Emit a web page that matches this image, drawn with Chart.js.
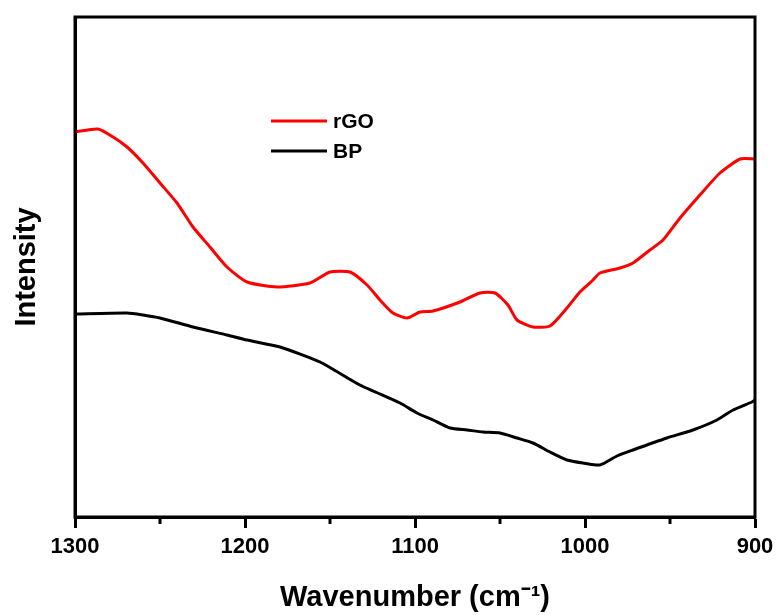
<!DOCTYPE html>
<html>
<head>
<meta charset="utf-8">
<script src="https://cdn.jsdelivr.net/npm/chart.js@4.4.0/dist/chart.umd.min.js"></script>
<style>
    html, body { margin: 0; padding: 0; background: #fff; }
    #wrap { width: 780px; height: 615px; }
</style>
</head>
<body>
<div id="wrap"><canvas id="spectrum" width="780" height="615"></canvas></div>
<script>
// values (wavenumber, intensity in arbitrary units)
const rgoWavenumber = [1300, 1286.5, 1277.6, 1269.4, 1260, 1250, 1240, 1230.6, 1220.6, 1210.6, 1198.8, 1181.2, 1161.8, 1150, 1138.2, 1128.2, 1120.6, 1113, 1104.7, 1097, 1089.4, 1073.5, 1061.8, 1052.9, 1045.3, 1040, 1030.6, 1020.6, 1010.6, 1003, 995.3, 991.2, 979.4, 971.8, 961.8, 954.1, 944.1, 932.4, 920.6, 908.8, 900];
const rgoIntensity = [77.0, 77.6, 76.0, 74.0, 70.8, 66.8, 62.8, 58.0, 54.0, 50.0, 47.0, 46.0, 46.8, 49.0, 49.0, 46.4, 43.4, 40.8, 39.8, 41.0, 41.2, 43.0, 44.8, 44.8, 42.4, 39.4, 38.0, 38.2, 41.8, 45.0, 47.4, 48.8, 49.8, 50.8, 53.4, 55.4, 59.8, 64.4, 68.8, 71.6, 71.6];

const bpWavenumber = [1300, 1269.4, 1260, 1250, 1230.6, 1210.6, 1198.8, 1179.4, 1155.9, 1132.4, 1108.8, 1098.8, 1089.4, 1079.4, 1069.4, 1060, 1050, 1040, 1030.6, 1020.6, 1010.6, 1001.2, 991.2, 981.2, 971.8, 951.8, 936.5, 922.4, 912.9, 901.8, 900];
const bpIntensity = [40.6, 40.8, 40.4, 39.8, 38.0, 36.4, 35.4, 34.0, 31.0, 26.4, 22.8, 20.8, 19.4, 17.8, 17.4, 17.0, 16.8, 15.8, 14.8, 13.0, 11.4, 10.8, 10.4, 12.2, 13.4, 15.8, 17.4, 19.4, 21.4, 23.0, 23.4];

const seriesNames = ['rGO', 'BP'];
const seriesColors = ['#ff0000', '#000000'];

const FONT = 'Arial, "Liberation Sans", sans-serif';

function toPoints(xs, ys) {
    return xs.map((x, i) => ({ x: x, y: ys[i] }));
}

// frame, minor ticks and the in-plot legend
const framePlugin = {
    id: 'frame',
    afterDraw(chart) {
        const { ctx, chartArea: a } = chart;
        const xs = chart.scales.x;
        ctx.save();
        ctx.strokeStyle = '#000';
        ctx.lineWidth = 3;
        ctx.strokeRect(a.left, a.top, a.right - a.left, a.bottom - a.top);

        // minor ticks
        for (let v = 950; v < 1300; v += 100) {
            const px = Math.round(xs.getPixelForValue(v));
            ctx.beginPath();
            ctx.moveTo(px, a.bottom);
            ctx.lineTo(px, a.bottom + 7);
            ctx.stroke();
        }

        // legend
        ctx.font = 'bold 21px ' + FONT;
        ctx.textBaseline = 'middle';
        chart.data.datasets.forEach((ds, i) => {
            const y = 121 + i * 30;
            ctx.strokeStyle = ds.borderColor;
            ctx.lineWidth = 3;
            ctx.beginPath();
            ctx.moveTo(271, y);
            ctx.lineTo(327, y);
            ctx.stroke();
            ctx.fillStyle = '#000';
            ctx.fillText(ds.label, 333, y + 1);
        });
        ctx.restore();
    }
};

new Chart(document.getElementById('spectrum'), {
    type: 'line',
    data: {
        datasets: [
            {
                label: seriesNames[0],
                data: toPoints(rgoWavenumber, rgoIntensity),
                borderColor: seriesColors[0],
                borderWidth: 3,
                pointRadius: 0,
                tension: 0.2,
                fill: false
            },
            {
                label: seriesNames[1],
                data: toPoints(bpWavenumber, bpIntensity),
                borderColor: seriesColors[1],
                borderWidth: 3,
                pointRadius: 0,
                tension: 0.2,
                fill: false
            }
        ]
    },
    options: {
        responsive: false,
        animation: false,
        layout: { padding: { top: 17, right: 25, bottom: 0, left: 0 } },
        plugins: {
            legend: { display: false },
            tooltip: { enabled: false }
        },
        scales: {
            x: {
                type: 'linear',
                reverse: true,
                min: 900,
                max: 1300,
                afterFit(scale) { scale.height = 98; },
                border: { display: true, color: '#000', width: 3 },
                grid: {
                    drawOnChartArea: false,
                    drawTicks: true,
                    tickLength: 11,
                    tickWidth: 3,
                    tickColor: '#000'
                },
                ticks: {
                    stepSize: 100,
                    color: '#000',
                    padding: 6,
                    maxRotation: 0,
                    callback: value => String(value),
                    font: { family: FONT, size: 22, weight: 'bold' }
                },
                title: {
                    display: true,
                    text: 'Wavenumber (cm⁻¹)',
                    color: '#000',
                    padding: { top: 0, bottom: 0 },
                    font: { family: FONT, size: 29, weight: 'bold' }
                }
            },
            y: {
                min: 0,
                max: 100,
                afterFit(scale) { scale.width = 75; },
                border: { display: true, color: '#000', width: 3 },
                grid: { display: false },
                ticks: { display: false },
                title: {
                    display: true,
                    text: 'Intensity',
                    color: '#000',
                    padding: { top: 10, bottom: 0 },
                    font: { family: FONT, size: 29, weight: 'bold' }
                }
            }
        }
    },
    plugins: [framePlugin]
});
</script>
</body>
</html>
